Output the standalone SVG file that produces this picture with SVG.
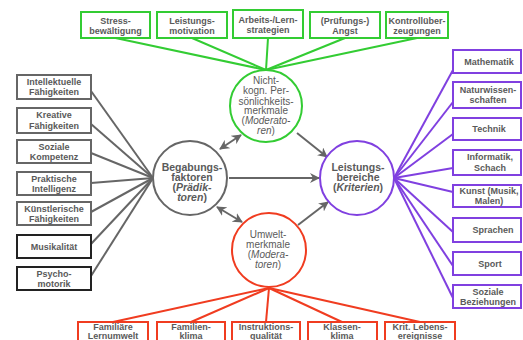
<svg xmlns="http://www.w3.org/2000/svg" width="523" height="340" viewBox="0 0 523 340">
<style>
text{font-family:"Liberation Sans",Arial,sans-serif;fill:#5a5a5a;text-anchor:middle}
.bt{font-size:9px;font-weight:bold}
.ct{font-size:10px}
.cb{font-size:10.5px;font-weight:bold}
.g{stroke:#33cc33;fill:#fff;stroke-width:2}
.p{stroke:#8040e0;fill:#fff;stroke-width:2}
.r{stroke:#f03c20;fill:#fff;stroke-width:2}
.k{stroke:#666;fill:#fff;stroke-width:2}
.kd{stroke:#222;fill:#fff;stroke-width:2}
.lg{stroke:#33cc33;stroke-width:2;fill:none}
.lp{stroke:#8040e0;stroke-width:2;fill:none}
.lr{stroke:#f03c20;stroke-width:2;fill:none}
.lk{stroke:#666;stroke-width:2;fill:none}
.ar{stroke:#666;stroke-width:2;fill:none}
</style>
<defs>
<marker id="ah" viewBox="0 0 10 10" refX="9" refY="5" markerWidth="5" markerHeight="5" orient="auto-start-reverse">
<path d="M0,0 L10,5 L0,10 L3,5 z" fill="#666"/>
</marker>
</defs>
<rect width="523" height="340" fill="#fff"/>
<g id="connectors">
<line class="lg" x1="266" y1="70" x2="115.5" y2="38"/>
<line class="lg" x1="266" y1="70" x2="192" y2="38"/>
<line class="lg" x1="266" y1="70" x2="268" y2="38"/>
<line class="lg" x1="266" y1="70" x2="345" y2="38"/>
<line class="lg" x1="266" y1="70" x2="417" y2="38"/>
<line class="lk" x1="153" y1="178" x2="91" y2="91"/>
<line class="lk" x1="153" y1="178" x2="91" y2="124"/>
<line class="lk" x1="153" y1="178" x2="91" y2="153"/>
<line class="lk" x1="153" y1="178" x2="91" y2="183"/>
<line class="lk" x1="153" y1="178" x2="91" y2="212"/>
<line class="lk" x1="153" y1="178" x2="91" y2="244"/>
<line class="lk" x1="153" y1="178" x2="91" y2="276"/>
<line class="lp" x1="394" y1="178" x2="453" y2="70"/>
<line class="lp" x1="394" y1="178" x2="453" y2="102"/>
<line class="lp" x1="394" y1="178" x2="453" y2="134"/>
<line class="lp" x1="394" y1="178" x2="453" y2="168"/>
<line class="lp" x1="394" y1="178" x2="453" y2="192"/>
<line class="lp" x1="394" y1="178" x2="453" y2="232"/>
<line class="lp" x1="394" y1="178" x2="453" y2="266"/>
<line class="lp" x1="394" y1="178" x2="453" y2="298"/>
<line class="lr" x1="269" y1="288" x2="113" y2="322"/>
<line class="lr" x1="269" y1="288" x2="191" y2="322"/>
<line class="lr" x1="269" y1="288" x2="266" y2="322"/>
<line class="lr" x1="269" y1="288" x2="342" y2="322"/>
<line class="lr" x1="269" y1="288" x2="420" y2="322"/>
<line class="ar" x1="229" y1="178" x2="319" y2="178" stroke-width="2.5" marker-end="url(#ah)"/>
<line class="ar" x1="220" y1="149" x2="241" y2="135" marker-start="url(#ah)" marker-end="url(#ah)"/>
<line class="ar" x1="297" y1="133" x2="327" y2="157" marker-end="url(#ah)"/>
<line class="ar" x1="217" y1="207" x2="242" y2="222" marker-start="url(#ah)" marker-end="url(#ah)"/>
<line class="ar" x1="298" y1="225" x2="328" y2="202" marker-end="url(#ah)"/>
</g>
<g id="c-nonkog"><circle class="g" cx="266" cy="106" r="36" stroke-width="2.5"/>
<text class="ct" x="266" y="84">Nicht-</text><text class="ct" x="266" y="94">kogn. Per-</text><text class="ct" x="266" y="104.5">sönlichkeits-</text><text class="ct" x="266" y="114">merkmale</text><text class="ct" x="266" y="124">(<tspan font-style="italic">Moderato-</tspan></text><text class="ct" x="266" y="134"><tspan font-style="italic">ren</tspan>)</text></g>
<g id="c-begabung"><circle class="k" cx="190" cy="178" r="37" stroke-width="2.5"/>
<text class="cb" x="192" y="171">Begabungs-</text><text class="cb" x="192" y="181">faktoren</text><text class="cb" x="192" y="191">(<tspan font-style="italic">Prädik-</tspan></text><text class="cb" x="192" y="201"><tspan font-style="italic">toren</tspan>)</text></g>
<g id="c-leistung"><circle class="p" cx="357" cy="178" r="37" stroke-width="2.5"/>
<text class="cb" x="358" y="171">Leistungs-</text><text class="cb" x="358" y="181">bereiche</text><text class="cb" x="358" y="191">(<tspan font-style="italic">Kriterien</tspan>)</text></g>
<g id="c-umwelt"><circle class="r" cx="269" cy="250" r="37" stroke-width="2.5"/>
<text class="ct" x="268" y="238">Umwelt-</text><text class="ct" x="268" y="248">merkmale</text><text class="ct" x="268" y="258">(<tspan font-style="italic">Modera-</tspan></text><text class="ct" x="268" y="267.5"><tspan font-style="italic">toren</tspan>)</text></g>
<g id="t1"><rect class="g" x="81" y="12" width="69" height="26"/><text class="bt" x="115.5" y="24">Stress-</text><text class="bt" x="115.5" y="34">bewältigung</text></g>
<g id="t2"><rect class="g" x="157" y="12" width="70" height="26"/><text class="bt" x="192" y="24">Leistungs-</text><text class="bt" x="192" y="34">motivation</text></g>
<g id="t3"><rect class="g" x="233" y="10" width="70" height="28"/><text class="bt" x="268" y="23">Arbeits-/Lern-</text><text class="bt" x="268" y="33">strategien</text></g>
<g id="t4"><rect class="g" x="310" y="12" width="70" height="26"/><text class="bt" x="345" y="24">(Prüfungs-)</text><text class="bt" x="345" y="34">Angst</text></g>
<g id="t5"><rect class="g" x="386" y="12" width="62" height="26"/><text class="bt" x="417" y="24">Kontrollüber-</text><text class="bt" x="417" y="34">zeugungen</text></g>
<g id="l1"><rect class="k" x="17" y="75" width="74" height="24"/><text class="bt" x="54" y="85">Intellektuelle</text><text class="bt" x="54" y="95">Fähigkeiten</text></g>
<g id="l2"><rect class="k" x="17" y="108" width="74" height="25"/><text class="bt" x="54" y="118">Kreative</text><text class="bt" x="54" y="128.5">Fähigkeiten</text></g>
<g id="l3"><rect class="k" x="17" y="140" width="74" height="23"/><text class="bt" x="54" y="150">Soziale</text><text class="bt" x="54" y="160">Kompetenz</text></g>
<g id="l4"><rect class="k" x="17" y="172" width="74" height="23"/><text class="bt" x="54" y="181.5">Praktische</text><text class="bt" x="54" y="191.5">Intelligenz</text></g>
<g id="l5"><rect class="k" x="17" y="202" width="74" height="23"/><text class="bt" x="54" y="212">Künstlerische</text><text class="bt" x="54" y="222">Fähigkeiten</text></g>
<g id="l6"><rect class="kd" x="17" y="235" width="74" height="23"/><text class="bt" x="54" y="249.5">Musikalität</text></g>
<g id="l7"><rect class="kd" x="17" y="267" width="74" height="23"/><text class="bt" x="54" y="276.5">Psycho-</text><text class="bt" x="54" y="286.5">motorik</text></g>
<g id="r1"><rect class="p" x="453" y="50" width="68" height="23"/><text class="bt" x="489" y="64.5">Mathematik</text></g>
<g id="r2"><rect class="p" x="453" y="82" width="68" height="26"/><text class="bt" x="488" y="92.5">Naturwissen-</text><text class="bt" x="488" y="103">schaften</text></g>
<g id="r3"><rect class="p" x="453" y="118" width="68" height="22"/><text class="bt" x="489" y="132">Technik</text></g>
<g id="r4"><rect class="p" x="453" y="150" width="68" height="25"/><text class="bt" x="490" y="160">Informatik,</text><text class="bt" x="490" y="170.5">Schach</text></g>
<g id="r5"><rect class="p" x="453" y="185" width="68" height="22"/><text class="bt" x="489" y="194">Kunst (Musik,</text><text class="bt" x="489" y="204">Malen)</text></g>
<g id="r6"><rect class="p" x="453" y="218" width="68" height="24"/><text class="bt" x="493" y="233">Sprachen</text></g>
<g id="r7"><rect class="p" x="453" y="252" width="68" height="23"/><text class="bt" x="490" y="266.5">Sport</text></g>
<g id="r8"><rect class="p" x="453" y="285" width="68" height="23"/><text class="bt" x="488" y="294.5">Soziale</text><text class="bt" x="488" y="304.5">Beziehungen</text></g>
<g id="b1"><rect class="r" x="78" y="322" width="70" height="28"/><text class="bt" x="113" y="330">Familiäre</text><text class="bt" x="113" y="339">Lernumwelt</text></g>
<g id="b2"><rect class="r" x="157" y="322" width="68" height="28"/><text class="bt" x="191" y="330">Familien-</text><text class="bt" x="191" y="339">klima</text></g>
<g id="b3"><rect class="r" x="232" y="322" width="68" height="28"/><text class="bt" x="266" y="330">Instruktions-</text><text class="bt" x="266" y="339">qualität</text></g>
<g id="b4"><rect class="r" x="308" y="322" width="69" height="28"/><text class="bt" x="342" y="330">Klassen-</text><text class="bt" x="342" y="339">klima</text></g>
<g id="b5"><rect class="r" x="385" y="322" width="70" height="28"/><text class="bt" x="420" y="330">Krit. Lebens-</text><text class="bt" x="420" y="339">ereignisse</text></g>
</svg>
